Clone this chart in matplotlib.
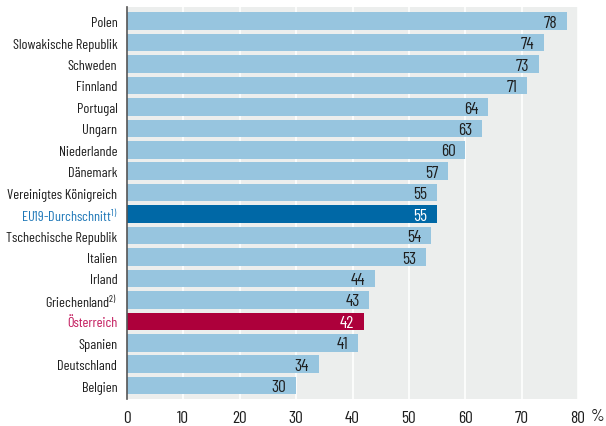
import matplotlib
matplotlib.use("Agg")
import matplotlib.pyplot as plt
import numpy as np

plt.rcParams['font.family'] = ['Barlow Condensed', 'DejaVu Sans']
plt.rcParams['mathtext.fontset'] = 'custom'
plt.rcParams['mathtext.rm'] = 'Barlow Condensed'
plt.rcParams['mathtext.default'] = 'regular'

# daten
laender = ['Polen', 'Slowakische Republik', 'Schweden', 'Finnland', 'Portugal', 'Ungarn',
           'Niederlande', 'Dänemark', 'Vereinigtes Königreich', r'EU19-Durchschnitt$^{1)}$',
           'Tschechische Republik', 'Italien', 'Irland', r'Griechenland$^{2)}$', 'Österreich',
           'Spanien', 'Deutschland', 'Belgien']
werte = [78, 74, 73, 71, 64, 63, 60, 57, 55, 55, 54, 53, 44, 43, 42, 41, 34, 30]
ticks = [0, 10, 20, 30, 40, 50, 60, 70, 80]

hell = '#97c5df'
farben = {9: '#0068a6', 14: '#ad003b'}
textfarben = {9: '#1f78b8', 14: '#c2185b'}

fig = plt.figure(figsize=(6.06, 4.27), dpi=100)
ax = fig.add_axes([127/606, 1-400/427, (578-127)/606, (400-8)/427])
ax.set_facecolor('#eceeed')

y = np.arange(len(werte))
cols = [farben.get(i, hell) for i in range(len(werte))]
ax.barh(y, werte, height=0.82, color=cols, zorder=2)

# werte rechts in den balken
for i, v in enumerate(werte):
  c = 'white' if i in farben else '#1e1e1e'
  ax.text(v - 1.7, i + 0.05, str(v), ha='right', va='center', fontsize=12.5, color=c, zorder=3)

ax.set_xlim(0, 80)
ax.set_ylim(17.62, -0.66)
ax.set_xticks(ticks)
ax.set_xticklabels([str(t) for t in ticks], fontsize=12.5, color='#1e1e1e')
ax.set_yticks(y)
ax.set_yticklabels(laender, fontsize=10.3, color='#1e1e1e')
for i, lab in enumerate(ax.get_yticklabels()):
  if i in textfarben:
    lab.set_color(textfarben[i])
ax.tick_params(axis='x', length=0, pad=8)
ax.tick_params(axis='y', length=0, pad=7)
ax.grid(axis='x', color='white', linewidth=1.2, zorder=1)
ax.set_axisbelow(True)
for s in ['top', 'right', 'bottom']:
  ax.spines[s].set_visible(False)
ax.spines['left'].set_color('#555555')
ax.spines['left'].set_linewidth(1.2)
ax.spines['left'].set_zorder(4)

fig.text(591/606, 1-417/427, '%', ha='left', va='center', fontsize=12.5, color='#1e1e1e')

fig.savefig('out.png', dpi=100)
